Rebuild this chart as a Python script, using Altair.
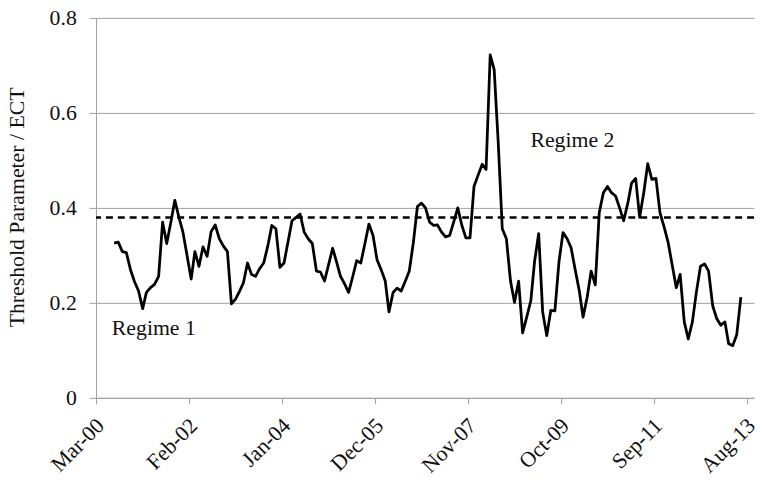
import altair as alt
import pandas as pd

# Monthly series, first observation July 2000
start_month = "2000-07-01"
threshold_values = [
    0.326, 0.328, 0.308, 0.306, 0.270, 0.245, 0.225, 0.188, 0.222, 0.232,
    0.239, 0.256, 0.370, 0.325, 0.370, 0.416, 0.380, 0.349, 0.300, 0.250,
    0.308, 0.277, 0.318, 0.298, 0.350, 0.364, 0.335, 0.320, 0.308, 0.198,
    0.208, 0.225, 0.242, 0.284, 0.260, 0.256, 0.272, 0.284, 0.320, 0.363,
    0.356, 0.275, 0.284, 0.330, 0.373, 0.380, 0.387, 0.349, 0.335, 0.325,
    0.267, 0.265, 0.246, 0.280, 0.315, 0.285, 0.256, 0.240, 0.222, 0.255,
    0.289, 0.284, 0.325, 0.366, 0.342, 0.291, 0.270, 0.246, 0.181, 0.222,
    0.231, 0.225, 0.245, 0.267, 0.328, 0.403, 0.410, 0.400, 0.370, 0.363,
    0.364, 0.349, 0.339, 0.342, 0.370, 0.400, 0.363, 0.337, 0.337, 0.445,
    0.469, 0.492, 0.481, 0.722, 0.691, 0.535, 0.356, 0.335, 0.246, 0.201,
    0.246, 0.137, 0.170, 0.205, 0.287, 0.346, 0.181, 0.131, 0.184, 0.183,
    0.287, 0.348, 0.335, 0.316, 0.270, 0.225, 0.170, 0.212, 0.267, 0.238,
    0.390, 0.432, 0.445, 0.432, 0.425, 0.400, 0.373, 0.410, 0.452, 0.462,
    0.380, 0.432, 0.493, 0.460, 0.462, 0.390, 0.360, 0.328, 0.280, 0.232,
    0.260, 0.160, 0.124, 0.160, 0.222, 0.277, 0.282, 0.267, 0.194, 0.167,
    0.153, 0.160, 0.114, 0.110, 0.133, 0.212,
]
threshold_level = 0.38

tick_dates = [(2000, 3), (2002, 2), (2004, 1), (2005, 12),
              (2007, 11), (2009, 10), (2011, 9), (2013, 8)]
y_ticks = [0, 0.2, 0.4, 0.6, 0.8]

regime_labels = ["Regime 1", "Regime 2"]
regime_dates = ["2000-06-28", "2009-02-12"]
regime_values = [0.133, 0.529]

dates = pd.date_range(start_month, periods=len(threshold_values), freq="MS") + pd.Timedelta(days=14)
df = pd.DataFrame({"date": dates.strftime("%Y-%m-%d"), "value": threshold_values})
df_rule = pd.DataFrame({"level": [threshold_level]})
df_text = pd.DataFrame({"label": regime_labels, "date": regime_dates, "value": regime_values})

FONT = "'Liberation Serif', 'Times New Roman', serif"
GRAY = "#a0a0a0"

x_scale = alt.Scale(
    type="utc",
    domain=[alt.DateTime(year=2000, month=3, date=1, utc=True),
            alt.DateTime(year=2013, month=9, date=22, utc=True)],
)
y_scale = alt.Scale(domain=[0, 0.8], nice=False, zero=True)

x_axis = alt.Axis(
    values=[alt.DateTime(year=y, month=m, date=1, utc=True) for y, m in tick_dates],
    format="%b-%y",
    labelAngle=-45,
    labelAlign="right",
    labelBaseline="top",
    labelPadding=11,
    labelOffset=-3,
    tickSize=6,
    grid=False,
    title=None,
    labelOverlap=False,
    labelFlush=False,
)
y_axis = alt.Axis(
    values=y_ticks,
    format=".1~f",
    tickSize=7,
    labelPadding=13,
    grid=True,
    title="Threshold Parameter / ECT",
    titleX=-73,
    titleY=191,
    titleAngle=-90,
    titleBaseline="alphabetic",
    titleAlign="center",
)

line = alt.Chart(df).mark_line(color="black", strokeWidth=2.8, strokeJoin="round").encode(
    x=alt.X("date:T", scale=x_scale, axis=x_axis),
    y=alt.Y("value:Q", scale=y_scale, axis=y_axis),
)

rule = alt.Chart(df_rule).mark_rule(color="black", strokeWidth=2.5, strokeDash=[7, 5]).encode(
    y=alt.Y("level:Q", scale=y_scale),
)

text = alt.Chart(df_text).mark_text(
    align="left", baseline="alphabetic", font=FONT, fontSize=22, color="#111111"
).encode(
    x=alt.X("date:T", scale=x_scale),
    y=alt.Y("value:Q", scale=y_scale),
    text="label:N",
)

chart = alt.layer(line, rule, text).properties(
    width=665,
    height=384,
    autosize=alt.AutoSizeParams(type="none"),
    padding={"left": 89, "top": 7.5, "right": 1, "bottom": 82.5},
    background="white",
).configure_axis(
    labelFont=FONT,
    labelFontSize=22,
    labelColor="#111111",
    titleFont=FONT,
    titleFontSize=22,
    titleFontWeight="normal",
    titleColor="#111111",
    domainColor=GRAY,
    tickColor=GRAY,
    gridColor=GRAY,
    domainWidth=1,
    gridWidth=1,
).configure_view(stroke=None)

chart.save("out.html", embed_options={"renderer": "svg", "actions": False})
